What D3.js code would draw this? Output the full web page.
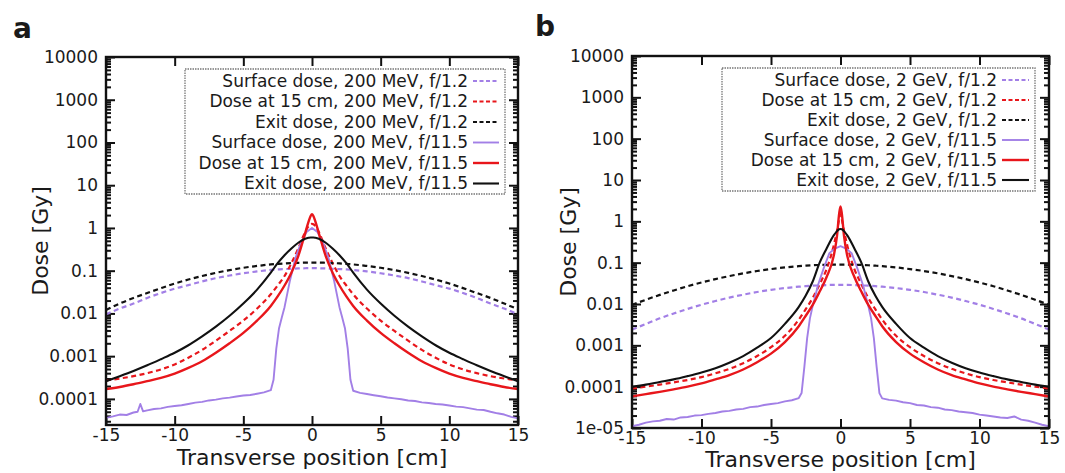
<!DOCTYPE html>
<html><head><meta charset="utf-8">
<script src="https://cdn.jsdelivr.net/npm/d3@7"></script>
<style>body{margin:0;background:#fff}svg{display:block}text{font-family:"DejaVu Sans",sans-serif;fill:#1a1a1a}</style>
</head><body>
<svg id="c" width="1065" height="473"></svg>
<script>
// ---------- DATA ----------
const xTickVals = [-15,-10,-5,0,5,10,15];
const xTickLabels = ["-15","-10","-5","0","5","10","15"];
const yTickValsA = [1e4,1e3,100,10,1,0.1,0.01,0.001,0.0001];
const yTickLabelsA = ["10000","1000","100","10","1","0.1","0.01","0.001","0.0001"];
const yTickValsB = [1e4,1e3,100,10,1,0.1,0.01,0.001,0.0001,1e-5];
const yTickLabelsB = ["10000","1000","100","10","1","0.1","0.01","0.001","0.0001","1e-05"];

const legendA = ["Surface dose, 200 MeV, f/1.2","Dose at 15 cm, 200 MeV, f/1.2","Exit dose, 200 MeV, f/1.2",
  "Surface dose, 200 MeV, f/11.5","Dose at 15 cm, 200 MeV, f/11.5","Exit dose, 200 MeV, f/11.5"];
const legendB = ["Surface dose, 2 GeV, f/1.2","Dose at 15 cm, 2 GeV, f/1.2","Exit dose, 2 GeV, f/1.2",
  "Surface dose, 2 GeV, f/11.5","Dose at 15 cm, 2 GeV, f/11.5","Exit dose, 2 GeV, f/11.5"];

// common x grid for smooth profiles [cm]
const xGrid = [-15,-14,-13,-12,-11,-10,-9,-8,-7,-6,-5,-4,-3,-2.5,-2,-1.5,-1,-0.5,-0.25,-0.1,0,0.1,0.25,0.5,1,1.5,2,2.5,3,4,5,6,7,8,9,10,11,12,13,14,15];

// panel a (200 MeV)
const surfA_f12 = [0.0095,0.013,0.017,0.023,0.030,0.038,0.046,0.056,0.067,0.077,0.087,0.096,0.104,0.107,0.109,0.111,0.113,0.114,0.115,0.115,0.115,0.115,0.115,0.114,0.113,0.111,0.109,0.107,0.104,0.096,0.087,0.077,0.067,0.056,0.046,0.038,0.030,0.023,0.017,0.013,0.0095];
const midA_f12 = [0.00027,0.0003,0.00034,0.0004,0.00049,0.00064,0.00092,0.0014,0.0023,0.0039,0.0068,0.013,0.028,0.045,0.075,0.15,0.33,0.8,1.1,1.22,1.25,1.22,1.1,0.8,0.33,0.15,0.075,0.045,0.028,0.013,0.0068,0.0039,0.0023,0.0014,0.00092,0.00064,0.00049,0.0004,0.00034,0.0003,0.00027];
const exitA_f12 = [0.012,0.017,0.023,0.030,0.039,0.050,0.062,0.075,0.089,0.103,0.117,0.129,0.140,0.144,0.148,0.151,0.153,0.155,0.155,0.155,0.155,0.155,0.155,0.155,0.153,0.151,0.148,0.144,0.140,0.129,0.117,0.103,0.089,0.075,0.062,0.050,0.039,0.030,0.023,0.017,0.0125];
const midA_f115 = [0.00017,0.00019,0.00022,0.00026,0.00031,0.00039,0.00053,0.00076,0.0012,0.002,0.0035,0.0068,0.015,0.025,0.045,0.09,0.22,0.75,1.4,1.9,2.1,1.9,1.4,0.75,0.22,0.09,0.045,0.025,0.015,0.0068,0.0035,0.002,0.0012,0.00076,0.00053,0.00039,0.00031,0.00026,0.00022,0.00019,0.00017];
const exitA_f115 = [0.00026,0.00034,0.00045,0.00061,0.00085,0.0012,0.0018,0.0029,0.0049,0.0088,0.017,0.036,0.09,0.15,0.23,0.33,0.45,0.56,0.59,0.6,0.6,0.6,0.59,0.56,0.45,0.33,0.23,0.15,0.09,0.036,0.017,0.0088,0.0049,0.0029,0.0018,0.0012,0.00085,0.00061,0.00045,0.00034,0.00026];
const surfA_x = [-15,-14.5,-14,-13.5,-13,-12.7,-12.5,-12.3,-12,-11.5,-11,-10.5,-10,-9.5,-9,-8.5,-8,-7.5,-7,-6.5,-6,-5.5,-5,-4.5,-4,-3.5,-3,-2.8,-2.6,-2.4,-2.2,-2,-1.6,-1.2,-0.8,-0.4,0,0.4,0.8,1.2,1.6,2,2.2,2.4,2.6,2.8,3,3.5,4,4.5,5,5.5,6,6.5,7,7.5,8,8.5,9,9.5,10,10.5,11,11.5,12,12.5,13,13.5,14,14.5,15];
const surfA_f115 = [3.6e-5,3.9e-5,4.3e-5,4.2e-5,4.8e-5,5.0e-5,7.6e-5,5.1e-5,5.4e-5,5.8e-5,6.0e-5,6.5e-5,6.8e-5,7.1e-5,7.6e-5,8.2e-5,8.5e-5,9.2e-5,9.6e-5,1.03e-4,1.07e-4,1.14e-4,1.2e-4,1.23e-4,1.32e-4,1.42e-4,1.6e-4,2.8e-4,0.0015,0.0045,0.008,0.014,0.06,0.2,0.45,0.8,1.0,0.8,0.45,0.2,0.06,0.014,0.008,0.0045,0.0015,2.8e-4,1.55e-4,1.38e-4,1.3e-4,1.22e-4,1.15e-4,1.08e-4,1.03e-4,9.8e-5,9.2e-5,8.9e-5,8.3e-5,8.0e-5,7.6e-5,7.4e-5,7.0e-5,6.6e-5,6.4e-5,6.0e-5,5.6e-5,5.5e-5,5.0e-5,4.6e-5,4.3e-5,3.8e-5,3.5e-5];

// panel b (2 GeV)
const surfB_f12 = [0.0024,0.0033,0.0045,0.0059,0.0076,0.0096,0.0118,0.0143,0.0168,0.0195,0.022,0.0243,0.0262,0.027,0.0277,0.0282,0.0287,0.029,0.029,0.029,0.029,0.029,0.029,0.029,0.0287,0.0282,0.0277,0.027,0.0262,0.0243,0.022,0.0195,0.0168,0.0143,0.0118,0.0096,0.0076,0.0059,0.0045,0.0033,0.0024];
const midB_f12 = [0.00009,0.0001,0.000112,0.000127,0.000145,0.00017,0.00021,0.00027,0.00037,0.00055,0.0009,0.0017,0.0042,0.0075,0.014,0.03,0.07,0.25,0.6,1.1,1.5,1.1,0.6,0.25,0.07,0.03,0.014,0.0075,0.0042,0.0017,0.0009,0.00055,0.00037,0.00027,0.00021,0.00017,0.000145,0.000127,0.000112,0.0001,0.00009];
const exitB_f12 = [0.0095,0.0127,0.0166,0.0213,0.0269,0.0331,0.040,0.0474,0.0551,0.0628,0.070,0.0767,0.0822,0.0845,0.0865,0.088,0.089,0.09,0.09,0.09,0.09,0.09,0.09,0.09,0.089,0.088,0.0865,0.0845,0.0822,0.0767,0.070,0.0628,0.0551,0.0474,0.040,0.0331,0.0269,0.0213,0.0166,0.0127,0.0095];
const midB_f115 = [0.000058,0.000066,0.000075,0.000086,0.0001,0.00012,0.00015,0.00019,0.00026,0.00039,0.00063,0.0012,0.0029,0.0052,0.0095,0.02,0.045,0.14,0.45,1.5,2.3,1.5,0.45,0.14,0.045,0.02,0.0095,0.0052,0.0029,0.0012,0.00063,0.00039,0.00026,0.00019,0.00015,0.00012,0.0001,0.000086,0.000075,0.000066,0.000058];
const exitB_f115 = [0.0001,0.000112,0.00013,0.00015,0.00018,0.00022,0.00028,0.00038,0.00055,0.00088,0.0015,0.0033,0.0085,0.016,0.035,0.1,0.22,0.45,0.58,0.64,0.65,0.64,0.58,0.45,0.22,0.1,0.035,0.016,0.0085,0.0033,0.0015,0.00088,0.00055,0.00038,0.00028,0.00022,0.00018,0.00015,0.00013,0.000112,0.0001];
const surfB_x = [-15,-14.5,-14,-13.5,-13,-12.5,-12,-11.5,-11,-10.5,-10,-9.5,-9,-8.5,-8,-7.5,-7,-6.5,-6,-5.5,-5,-4.5,-4,-3.5,-3,-2.8,-2.6,-2.4,-2.2,-2,-1.6,-1.2,-0.8,-0.4,0,0.4,0.8,1.2,1.6,2,2.2,2.4,2.6,2.8,3,3.5,4,4.5,5,5.5,6,6.5,7,7.5,8,8.5,9,9.5,10,10.5,11,11.5,12,12.5,13,13.5,14,14.5,15];
const surfB_f115 = [1.1e-5,1.2e-5,1.35e-5,1.45e-5,1.5e-5,1.65e-5,1.6e-5,1.8e-5,1.85e-5,2.0e-5,2.05e-5,2.2e-5,2.3e-5,2.5e-5,2.6e-5,2.8e-5,2.9e-5,3.2e-5,3.3e-5,3.6e-5,3.8e-5,4.0e-5,4.4e-5,4.7e-5,5.3e-5,7e-5,3e-4,0.0015,0.0045,0.009,0.03,0.075,0.17,0.22,0.25,0.22,0.17,0.075,0.03,0.009,0.0045,0.0015,3e-4,7e-5,5.2e-5,4.8e-5,4.6e-5,4.2e-5,4.0e-5,3.6e-5,3.5e-5,3.2e-5,3.1e-5,2.8e-5,2.7e-5,2.5e-5,2.4e-5,2.3e-5,2.1e-5,2.0e-5,1.9e-5,1.8e-5,1.75e-5,1.9e-5,1.6e-5,1.5e-5,1.35e-5,1.2e-5,1.1e-5];

// ---------- STYLE ----------
const PURPLE = "#a27fe6", RED = "#e8161b", BLACK = "#111";
const styles = [
  {color: PURPLE, dash: "5,3.5", w: 2.2},
  {color: RED, dash: "5,3.5", w: 2.2},
  {color: BLACK, dash: "5,3.5", w: 2.2},
  {color: PURPLE, dash: null, w: 1.9},
  {color: RED, dash: null, w: 2.4},
  {color: BLACK, dash: null, w: 2.1}
];

const svg = d3.select("#c");

function panel(cfg) {
  const g = svg.append("g");
  const x = d3.scaleLinear().domain([-15,15]).range([cfg.left, cfg.right]);
  const y = d3.scaleLog().domain([cfg.yMin, 1e4]).range([cfg.bottom, cfg.top]);

  const cid = "clip" + cfg.id;
  svg.append("clipPath").attr("id", cid).append("rect")
    .attr("x", cfg.left).attr("y", cfg.top).attr("width", cfg.right-cfg.left).attr("height", cfg.bottom-cfg.top);

  // minor y ticks
  const minor = [];
  for (let e = -6; e < 4; e++) for (let m = 2; m < 10; m++) {
    const v = m * Math.pow(10, e);
    if (v > cfg.yMin && v < 1e4) minor.push(v);
  }
  const mk = (ax, tr) => g.append("g").attr("transform", tr).call(ax).call(s => s.select(".domain").remove());
  mk(d3.axisLeft(y).tickValues(minor).tickFormat("").tickSize(-5).tickSizeOuter(0), `translate(${cfg.left},0)`);
  mk(d3.axisRight(y).tickValues(minor).tickFormat("").tickSize(-5).tickSizeOuter(0), `translate(${cfg.right},0)`);
  const yl = mk(d3.axisLeft(y).tickValues(cfg.yVals).tickFormat((d,i)=>cfg.yLabels[i]).tickSize(-9).tickSizeOuter(0).tickPadding(8), `translate(${cfg.left},0)`);
  mk(d3.axisRight(y).tickValues(cfg.yVals).tickFormat("").tickSize(-9).tickSizeOuter(0), `translate(${cfg.right},0)`);
  const xl = mk(d3.axisBottom(x).tickValues(xTickVals).tickFormat((d,i)=>xTickLabels[i]).tickSize(-9).tickSizeOuter(0).tickPadding(4), `translate(0,${cfg.bottom})`);
  mk(d3.axisTop(x).tickValues(xTickVals).tickFormat("").tickSize(-9).tickSizeOuter(0), `translate(0,${cfg.top})`);
  g.selectAll(".tick line").attr("stroke", "#111").attr("stroke-width", 2);
  yl.selectAll("text").style("font-size", "17px").attr("fill", "#1a1a1a").attr("font-family", "DejaVu Sans");
  xl.selectAll("text").style("font-size", "17px").attr("fill", "#1a1a1a").attr("font-family", "DejaVu Sans").attr("dy", "0.71em");

  // curves
  const cg = g.append("g").attr("clip-path", `url(#${cid})`);
  cfg.series.forEach((s, i) => {
    const st = styles[i];
    const pts = s.x.map((xv, j) => [xv, s.y[j]]);
    const line = d3.line().x(d => x(d[0])).y(d => y(d[1])).curve(s.noisy ? d3.curveLinear : d3.curveMonotoneX);
    cg.append("path").attr("d", line(pts)).attr("fill", "none")
      .attr("stroke", st.color).attr("stroke-width", st.w)
      .attr("stroke-dasharray", st.dash).attr("stroke-linejoin", "round");
  });
  // frame
  g.append("rect").attr("x", cfg.left).attr("y", cfg.top).attr("width", cfg.right-cfg.left).attr("height", cfg.bottom-cfg.top)
    .attr("fill", "none").attr("stroke", "#111").attr("stroke-width", 2.4);

  // legend
  const L = cfg.legend;
  g.append("rect").attr("x", L.x0).attr("y", L.y0).attr("width", L.x1-L.x0).attr("height", L.y1-L.y0)
    .attr("fill", "#fff").attr("stroke", "#777").attr("stroke-width", 1.3).attr("stroke-dasharray", "1.5,1");
  cfg.legendText.forEach((t, i) => {
    const yy = L.row0 + i * L.dy;
    g.append("text").attr("x", L.textX).attr("y", yy).attr("text-anchor", "end").attr("dy", "0.35em")
      .style("font-size", "17px").text(t);
    const st = styles[i];
    g.append("line").attr("x1", L.s0).attr("x2", L.s1).attr("y1", yy).attr("y2", yy)
      .attr("stroke", st.color).attr("stroke-width", st.w).attr("stroke-dasharray", st.dash ? "4,2.5" : null);
  });

  // axis titles
  g.append("text").attr("transform", `translate(${cfg.yTitleX},${(cfg.top+cfg.bottom)/2}) rotate(-90)`)
    .attr("text-anchor", "middle").style("font-size", "22px").text("Dose [Gy]");
  g.append("text").attr("x", (cfg.left+cfg.right)/2).attr("y", cfg.xTitleY).attr("text-anchor", "middle")
    .style("font-size", "22px").text("Transverse position [cm]");
  g.append("text").attr("x", cfg.tagX).attr("y", cfg.tagY).style("font-size", "28px").style("font-weight", "bold").text(cfg.tag);
}

panel({
  id: "a", tag: "a", tagX: 13, tagY: 38,
  left: 106, right: 518, top: 57, bottom: 425, yMin: 2.45e-5,
  yVals: yTickValsA, yLabels: yTickLabelsA, yTitleX: 48, xTitleY: 465,
  legend: {x0: 185, x1: 505, y0: 69, y1: 194, row0: 81, dy: 20.5, textX: 468, s0: 473, s1: 499},
  legendText: legendA,
  series: [
    {x: xGrid, y: surfA_f12}, {x: xGrid, y: midA_f12}, {x: xGrid, y: exitA_f12},
    {x: surfA_x, y: surfA_f115, noisy: true}, {x: xGrid, y: midA_f115}, {x: xGrid, y: exitA_f115}
  ]
});
panel({
  id: "b", tag: "b", tagX: 535, tagY: 36,
  left: 632, right: 1049, top: 56, bottom: 428, yMin: 1e-5,
  yVals: yTickValsB, yLabels: yTickLabelsB, yTitleX: 576, xTitleY: 467,
  legend: {x0: 722, x1: 1035, y0: 68, y1: 191, row0: 80, dy: 20, textX: 997, s0: 1002, s1: 1029},
  legendText: legendB,
  series: [
    {x: xGrid, y: surfB_f12}, {x: xGrid, y: midB_f12}, {x: xGrid, y: exitB_f12},
    {x: surfB_x, y: surfB_f115, noisy: true}, {x: xGrid, y: midB_f115}, {x: xGrid, y: exitB_f115}
  ]
});
</script>
</body></html>
